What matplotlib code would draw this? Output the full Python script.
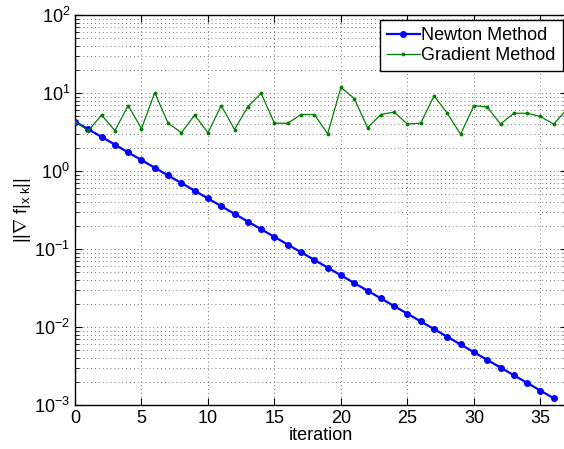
import matplotlib
matplotlib.use("Agg")
import matplotlib.pyplot as plt
from matplotlib.ticker import LogLocator, NullFormatter

plt.rcParams['font.family'] = 'Liberation Sans'
plt.rcParams['mathtext.fontset'] = 'custom'
plt.rcParams['mathtext.rm'] = 'Liberation Sans'
plt.rcParams['mathtext.it'] = 'Liberation Sans'
plt.rcParams['mathtext.bf'] = 'Liberation Sans:bold'

# ---- data ----
newton_iter = list(range(37))
newton_norm = [4.3, 3.43, 2.73, 2.18, 1.73, 1.38, 1.10, 0.878, 0.700, 0.558,
               0.445, 0.354, 0.282, 0.225, 0.179, 0.143, 0.114, 0.0908, 0.0724, 0.0577,
               0.0460, 0.0366, 0.0292, 0.0233, 0.0185, 0.0148, 0.0118, 0.00939, 0.00748, 0.00597,
               0.00475, 0.00379, 0.00302, 0.00241, 0.00192, 0.00153, 0.00122]

grad_iter = list(range(38))
grad_norm = [4.3, 3.3, 5.2, 3.3, 6.9, 3.5, 10.1, 4.1, 3.1, 5.2,
             3.1, 6.9, 3.4, 6.7, 9.9, 4.1, 4.1, 5.3, 5.3, 3.0,
             11.8, 8.5, 3.6, 5.3, 5.7, 4.0, 4.1, 9.2, 5.5, 2.95,
             6.9, 6.6, 4.0, 5.5, 5.5, 5.0, 4.0, 6.2]

fig = plt.figure(figsize=(5.64, 4.49), dpi=100)
ax = fig.add_axes([75 / 564, 44 / 449, 492 / 564, 390 / 449])

ax.semilogy(newton_iter, newton_norm, color='#0000ff', lw=1.6, marker='.',
            markersize=8, label='Newton Method', zorder=3)
ax.semilogy(grad_iter, grad_norm, color='#008000', lw=0.9, marker='.',
            markersize=3.5, label='Gradient Method', zorder=3)

ax.set_xlim(0, 37)
ax.set_ylim(1e-3, 1e2)
ax.set_xticks(range(0, 36, 5))
ax.yaxis.set_major_locator(LogLocator(base=10, numticks=10))
ax.yaxis.set_minor_locator(LogLocator(base=10, subs=range(2, 10), numticks=10))
ax.yaxis.set_minor_formatter(NullFormatter())

grid_kw = dict(color='0.45', linestyle=(0, (1, 3)), linewidth=0.7)
ax.grid(True, which='major', axis='both', **grid_kw)
ax.grid(True, which='minor', axis='y', **grid_kw)
ax.set_axisbelow(True)

ax.tick_params(which='both', direction='in', top=True, right=True, labelsize=13)
ax.tick_params(which='major', length=5)
ax.tick_params(which='minor', length=3)
for s in ax.spines.values():
    s.set_linewidth(1.0)

ax.set_xlabel('iteration', fontsize=13, labelpad=0)
ax.set_ylabel(r'$||\nabla\ f|_{x\ k}||$', fontsize=13, labelpad=1)

leg = ax.legend(loc='upper right', bbox_to_anchor=(563 / 564, 1 - 20 / 449),
                bbox_transform=fig.transFigure, fontsize=13, fancybox=False,
                framealpha=1, edgecolor='black', borderpad=0.4, labelspacing=0.15,
                handlelength=1.8, handletextpad=0.1, borderaxespad=0)
leg.get_frame().set_linewidth(1.0)

fig.savefig('out.png', dpi=100)
